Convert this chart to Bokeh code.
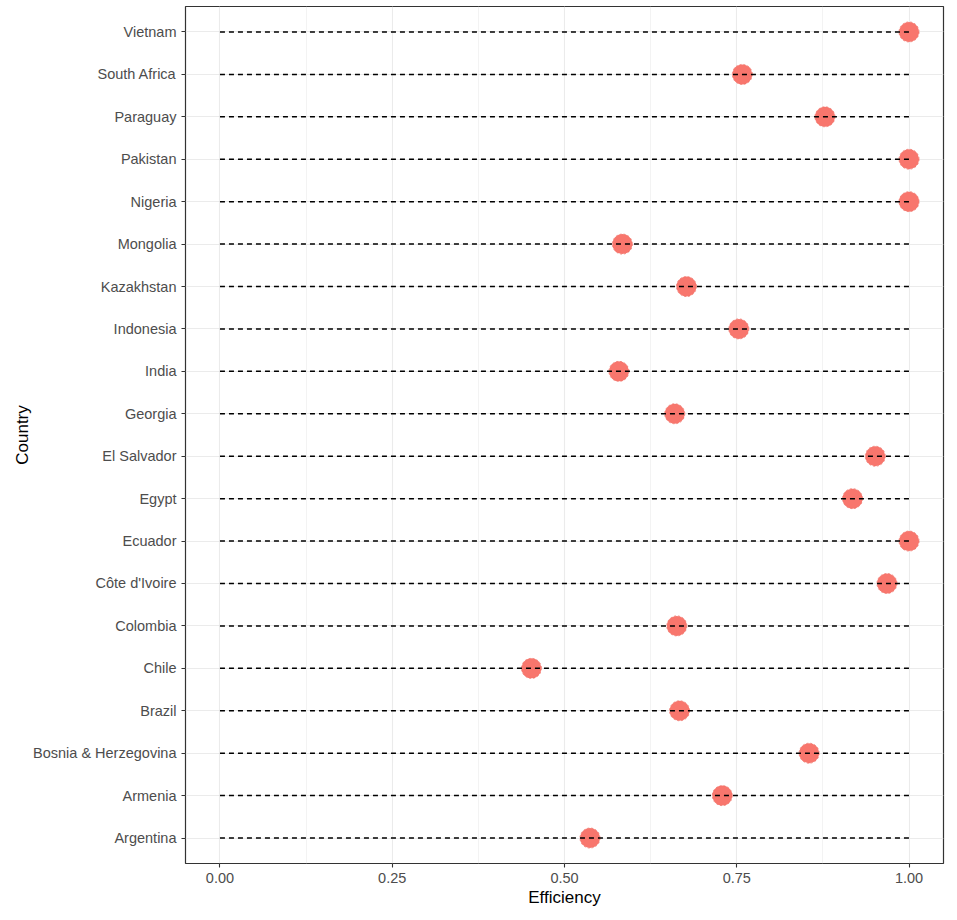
from bokeh.plotting import figure
from bokeh.models import FactorRange, Range1d, FixedTicker, ColumnDataSource
from bokeh.embed import file_html
from bokeh.resources import INLINE

# ---- data ----
countries = ["Argentina", "Armenia", "Bosnia & Herzegovina", "Brazil", "Chile",
             "Colombia", "Côte d'Ivoire", "Ecuador", "Egypt", "El Salvador",
             "Georgia", "India", "Indonesia", "Kazakhstan", "Mongolia",
             "Nigeria", "Pakistan", "Paraguay", "South Africa", "Vietnam"]
efficiency = [0.537, 0.729, 0.855, 0.667, 0.452,
              0.663, 0.968, 1.000, 0.918, 0.951,
              0.660, 0.579, 0.753, 0.677, 0.584,
              1.000, 1.000, 0.878, 0.758, 1.000]
line_start = [0.0] * len(countries)
line_end = [1.0] * len(countries)
x_ticks = [0.0, 0.25, 0.5, 0.75, 1.0]
x_minor = [0.125, 0.375, 0.625, 0.875]
x_labels = ["0.00", "0.25", "0.50", "0.75", "1.00"]

src = ColumnDataSource(dict(country=countries, eff=efficiency,
                            x0=line_start, x1=line_end))

FONT = "Liberation Sans"

p = figure(width=949, height=916, output_backend="svg", toolbar_location=None,
           x_range=Range1d(-0.05, 1.05),
           y_range=FactorRange(factors=countries, range_padding=0.01),
           min_border_left=185, min_border_right=6, min_border_top=6,
           min_border_bottom=53)

p.background_fill_color = "white"
p.border_fill_color = "white"
p.outline_line_color = "#333333"
p.outline_line_width = 1.2

# grid
p.xgrid.ticker = FixedTicker(ticks=x_ticks, minor_ticks=x_minor)
p.xgrid.grid_line_color = "#EBEBEB"
p.xgrid.grid_line_width = 1.1
p.xgrid.minor_grid_line_color = "#EBEBEB"
p.xgrid.minor_grid_line_width = 0.6
p.ygrid.grid_line_color = "#EBEBEB"
p.ygrid.grid_line_width = 1.1

# points then dashed segments (segments drawn over the points)
p.scatter(x="eff", y="country", source=src, size=20,
          fill_color="#F8766D", line_color="#EE6E65", line_width=0.8,
          line_dash="2 2")
p.segment(x0="x0", y0="country", x1="x1", y1="country", source=src,
          line_color="black", line_width=1.5, line_dash="5 4")

# axes
p.xaxis.ticker = FixedTicker(ticks=x_ticks, minor_ticks=[])
p.xaxis.major_label_overrides = {t: l for t, l in zip(x_ticks, x_labels)}
for ax in (p.xaxis[0], p.yaxis[0]):
    ax.axis_line_color = None
    ax.major_tick_line_color = "#333333"
    ax.major_tick_line_width = 1.1
    ax.major_tick_out = 4
    ax.major_tick_in = 0
    ax.minor_tick_line_color = None
    ax.major_label_text_font = FONT
    ax.major_label_text_font_size = "14.5px"
    ax.major_label_text_color = "#4D4D4D"
    ax.axis_label_text_font = FONT
    ax.axis_label_text_font_size = "17px"
    ax.axis_label_text_font_style = "normal"
    ax.axis_label_text_color = "black"

p.xaxis.axis_label = "Efficiency"
p.yaxis.axis_label = "Country"
p.xaxis.major_label_standoff = 5
p.xaxis.axis_label_standoff = 2
p.yaxis.major_label_standoff = 5
p.yaxis.axis_label_standoff = -2

open("out.html", "w").write(file_html(p, INLINE))
